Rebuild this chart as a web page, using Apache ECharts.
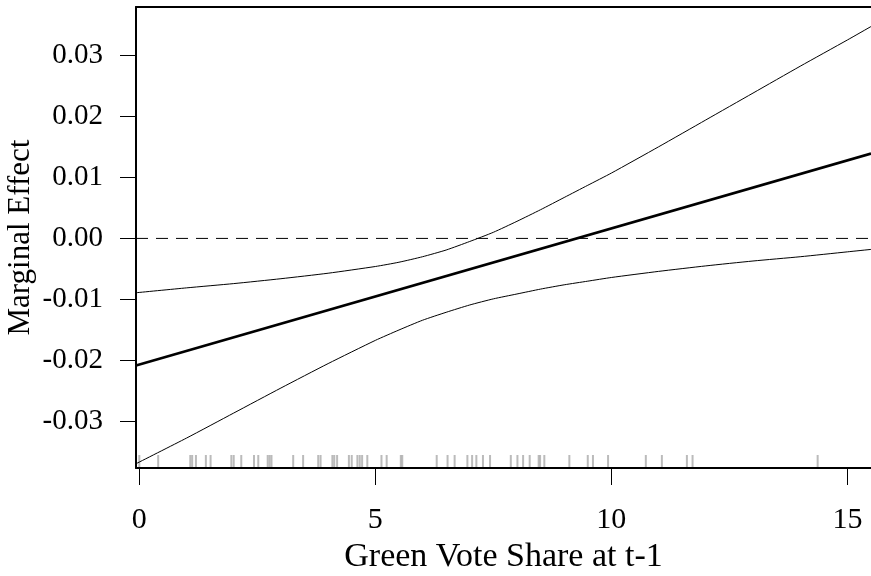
<!DOCTYPE html>
<html>
<head>
<meta charset="utf-8">
<script src="https://cdn.jsdelivr.net/npm/echarts@6/dist/echarts.min.js"></script>
<style>html,body{margin:0;padding:0;background:#fff}#c{width:871px;height:576px}</style>
</head>
<body>
<div id="c"></div>
<script>
// ---- data ----
const xTicks = [0, 5, 10, 15];
const yTicks = [-0.03, -0.02, -0.01, 0.00, 0.01, 0.02, 0.03];
const ciX = [-0.07, 1, 2, 3, 4, 5, 5.5, 6, 6.5, 7, 7.5, 8, 8.5, 9, 9.5, 10, 11, 12, 13, 14, 15, 15.5];
const upperCI = [-0.0089, -0.0081, -0.0074, -0.0066, -0.0057, -0.0046, -0.0039, -0.0030, -0.0019, -0.0005, 0.0010, 0.0028, 0.0047, 0.0067, 0.0087, 0.0107, 0.0150, 0.0194, 0.0238, 0.0282, 0.0325, 0.0347];
const lowerCI = [-0.0369, -0.0327, -0.0286, -0.0245, -0.0205, -0.0167, -0.0150, -0.0134, -0.0121, -0.0109, -0.0099, -0.0091, -0.0083, -0.0076, -0.0070, -0.0064, -0.0054, -0.0045, -0.0037, -0.0030, -0.0022, -0.0018];
const mainX = [-0.07, 15.5];
const mainY = [-0.0208, 0.0139];
const zeroX = [-0.07, 15.5];
const zeroY = [0, 0];
const rug = [0.0, 0.40, 1.08, 1.12, 1.20, 1.41, 1.51, 1.95, 2.00, 2.16, 2.43, 2.52, 2.72, 2.76, 2.80,
  3.26, 3.47, 3.79, 3.84, 4.09, 4.13, 4.19, 4.44, 4.50, 4.62, 4.67, 4.72, 4.83, 5.13, 5.24, 5.54, 5.57,
  6.30, 6.53, 6.68, 6.95, 7.05, 7.14, 7.28, 7.43, 7.87, 8.01, 8.13, 8.27, 8.46, 8.49, 8.58, 9.11,
  9.50, 9.61, 9.93, 10.73, 11.07, 11.60, 11.72, 14.37];
const xMin = -0.07, xMax = 15.5, yMin = -0.0376, yMax = 0.0379;

const zip = (xs, ys) => xs.map((x, i) => [x, ys[i]]);
const FONT = 'Liberation Serif';
const chart = echarts.init(document.getElementById('c'), null, {renderer: 'canvas'});
chart.setOption({
  backgroundColor: '#fff',
  animation: false,
  grid: {left: 136, top: 7, right: 0, bottom: 108, show: false, containLabel: false, outerBoundsMode: 'none'},
  xAxis: [{
    type: 'value', min: xMin, max: xMax, position: 'bottom',
    name: 'Green Vote Share at t-1', nameLocation: 'middle', nameGap: 72, nameMoveOverlap: false,
    nameTextStyle: {fontFamily: FONT, fontSize: 34, color: '#000'},
    axisLine: {show: true, onZero: false, lineStyle: {color: '#000', width: 2}},
    axisTick: {show: true, inside: false, length: 17, customValues: xTicks, lineStyle: {color: '#000', width: 1}},
    axisLabel: {show: true, margin: 37, customValues: xTicks, fontFamily: FONT, fontSize: 30, color: '#000',
      formatter: v => String(v)},
    splitLine: {show: false}
  }, {
    type: 'value', min: xMin, max: xMax, position: 'top',
    axisLine: {show: true, onZero: false, lineStyle: {color: '#000', width: 2}},
    axisTick: {show: false}, axisLabel: {show: false}, splitLine: {show: false}
  }],
  yAxis: {
    type: 'value', min: yMin, max: yMax,
    name: 'Marginal Effect', nameLocation: 'middle', nameGap: 100, nameMoveOverlap: false,
    nameTextStyle: {fontFamily: FONT, fontSize: 31, color: '#000'},
    axisLine: {show: true, onZero: false, lineStyle: {color: '#000', width: 2}},
    axisTick: {show: true, inside: false, length: 16, customValues: yTicks, lineStyle: {color: '#000', width: 1}},
    axisLabel: {show: true, margin: 33, customValues: yTicks, fontFamily: FONT, fontSize: 29, color: '#000',
      formatter: v => v.toFixed(2)},
    splitLine: {show: false}
  },
  series: [
    {type: 'line', data: zip(zeroX, zeroY), symbol: 'none', silent: true,
      lineStyle: {color: '#000', width: 1, type: [12, 8]}},
    {type: 'scatter', data: rug.map(x => [x, yMin]), symbol: 'rect', symbolSize: [2, 12],
      symbolOffset: [0, -7], clip: false, itemStyle: {color: '#aaaaaa'}, silent: true},
    {type: 'line', data: zip(ciX, upperCI), symbol: 'none', smooth: 0.2,
      lineStyle: {color: '#000', width: 1}},
    {type: 'line', data: zip(ciX, lowerCI), symbol: 'none', smooth: 0.2,
      lineStyle: {color: '#000', width: 1}},
    {type: 'line', data: zip(mainX, mainY), symbol: 'none',
      lineStyle: {color: '#000', width: 2.6}}
  ]
});
</script>
</body>
</html>
